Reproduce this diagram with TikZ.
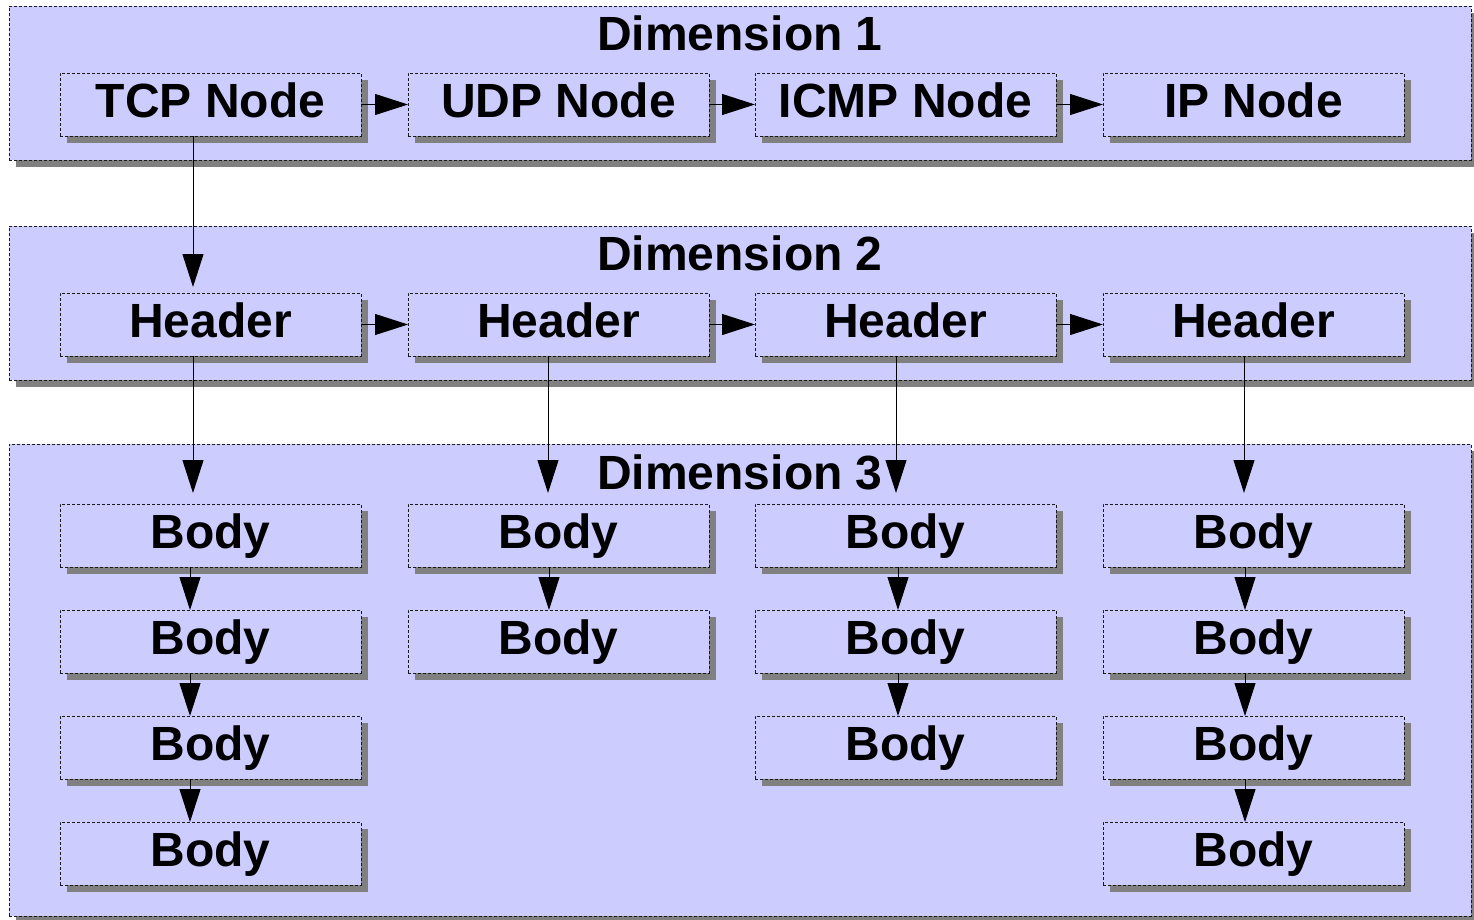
\documentclass[tikz,border=0pt]{standalone}
\usepackage{fontspec}
\setmainfont{Liberation Sans}
\usetikzlibrary{shadows,arrows.meta}

\definecolor{panelfill}{HTML}{CCCCFF}
\definecolor{shadowgray}{HTML}{808080}
\definecolor{edgegray}{HTML}{1A1A1A}

\begin{document}
\begin{tikzpicture}[x=1pt,y=-1pt,
  boxbase/.style={rectangle, inner sep=0pt, outer sep=0pt, anchor=north west,
    fill=panelfill, draw=edgegray, line width=1pt, dash pattern=on 3pt off 2pt,
    drop shadow={shadow xshift=7pt, shadow yshift=-7pt, fill=shadowgray, opacity=1}},
  panel/.style={boxbase, minimum width=1462pt},
  cell/.style={boxbase, minimum width=301pt, minimum height=63pt,
    font=\fontsize{48}{50}\selectfont\bfseries, text height=35pt, text depth=10pt},
  title/.style={anchor=base, inner sep=0pt, font=\fontsize{48}{50}\selectfont\bfseries},
  link/.style={line width=1pt, -{Triangle[length=33pt,width=21pt]}},
]
\useasboundingbox (0,0) rectangle (1474,919);

% three dimension panels
\node[panel, minimum height=154pt] (d1) at (9,6) {};
\node[panel, minimum height=154pt] (d2) at (9,226) {};
\node[panel, minimum height=472pt] (d3) at (9,444) {};

\node[title] (t1) at (740,50) {Dimension 1};
\node[title] (t2) at (740,270) {Dimension 2};
\node[title] (t3) at (740,489) {Dimension 3};

% dimension 1: protocol nodes
\node[cell] (p1) at (60,73)   {TCP Node};
\node[cell] (p2) at (408,73)  {UDP Node};
\node[cell] (p3) at (755,73)  {ICMP Node};
\node[cell] (p4) at (1103,73) {IP Node};

% dimension 2: headers
\node[cell] (h1) at (60,293)   {Header};
\node[cell] (h2) at (408,293)  {Header};
\node[cell] (h3) at (755,293)  {Header};
\node[cell] (h4) at (1103,293) {Header};

% dimension 3: bodies
\node[cell] (b11) at (60,504) {Body};
\node[cell] (b12) at (60,610) {Body};
\node[cell] (b13) at (60,716) {Body};
\node[cell] (b14) at (60,822) {Body};

\node[cell] (b21) at (408,504) {Body};
\node[cell] (b22) at (408,610) {Body};

\node[cell] (b31) at (755,504) {Body};
\node[cell] (b32) at (755,610) {Body};
\node[cell] (b33) at (755,716) {Body};

\node[cell] (b41) at (1103,504) {Body};
\node[cell] (b42) at (1103,610) {Body};
\node[cell] (b43) at (1103,716) {Body};
\node[cell] (b44) at (1103,822) {Body};

% horizontal chains
\draw[link] (p1.east) -- (p2.west);
\draw[link] (p2.east) -- (p3.west);
\draw[link] (p3.east) -- (p4.west);
\draw[link] (h1.east) -- (h2.west);
\draw[link] (h2.east) -- (h3.west);
\draw[link] (h3.east) -- (h4.west);

% dimension 1 -> dimension 2
\draw[link, shorten >=6pt] ([xshift=-17.5pt]p1.south) -- ([xshift=-17.5pt]h1.north);

% headers -> first bodies
\draw[link, shorten >=11pt] ([xshift=-17.5pt]h1.south) -- ([xshift=-17.5pt]b11.north);
\draw[link, shorten >=11pt] ([xshift=-10.5pt]h2.south) -- ([xshift=-10.5pt]b21.north);
\draw[link, shorten >=11pt] ([xshift=-9.5pt]h3.south) -- ([xshift=-9.5pt]b31.north);
\draw[link, shorten >=11pt] ([xshift=-9.5pt]h4.south) -- ([xshift=-9.5pt]b41.north);

% body chains
\draw[link] ([xshift=-20.5pt]b11.south) -- ([xshift=-20.5pt]b12.north);
\draw[link] ([xshift=-20.5pt]b12.south) -- ([xshift=-20.5pt]b13.north);
\draw[link] ([xshift=-20.5pt]b13.south) -- ([xshift=-20.5pt]b14.north);
\draw[link] ([xshift=-9.5pt]b21.south) -- ([xshift=-9.5pt]b22.north);
\draw[link] ([xshift=-7.5pt]b31.south) -- ([xshift=-7.5pt]b32.north);
\draw[link] ([xshift=-7.5pt]b32.south) -- ([xshift=-7.5pt]b33.north);
\draw[link] ([xshift=-8.5pt]b41.south) -- ([xshift=-8.5pt]b42.north);
\draw[link] ([xshift=-8.5pt]b42.south) -- ([xshift=-8.5pt]b43.north);
\draw[link] ([xshift=-8.5pt]b43.south) -- ([xshift=-8.5pt]b44.north);
\end{tikzpicture}
\end{document}
